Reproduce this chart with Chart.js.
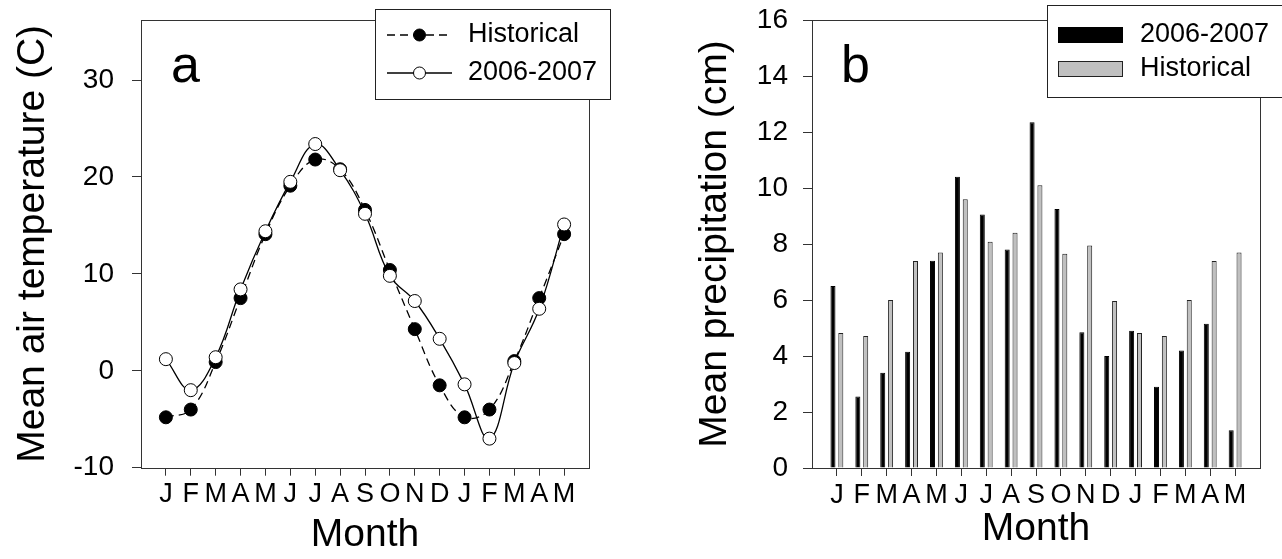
<!DOCTYPE html>
<html>
<head>
<meta charset="utf-8">
<script src="https://cdn.jsdelivr.net/npm/chart.js@4"></script>
<style>
  html, body { margin: 0; padding: 0; background: #fff; overflow: hidden; }
  #tempChart { position: absolute; left: 0; top: 0; }
  #precipChart { position: absolute; left: 640px; top: 0; }
</style>
</head>
<body>
<canvas id="tempChart" width="640" height="559"></canvas>
<canvas id="precipChart" width="642" height="559"></canvas>
<script>
// Jan 2006 .. May 2007
const months = ["J", "F", "M", "A", "M", "J", "J", "A", "S", "O", "N", "D", "J", "F", "M", "A", "M"];

const tempHistorical = [-4.8, -4.0, 0.9, 7.5, 14.1, 19.1, 21.8, 20.8, 16.6, 10.4, 4.3, -1.5, -4.8, -4.0, 1.0, 7.5, 14.1];
const temp0607 = [1.2, -2.0, 1.4, 8.4, 14.4, 19.5, 23.4, 20.7, 16.2, 9.8, 7.2, 3.3, -1.4, -7.0, 0.8, 6.4, 15.1];

const precip0607 = [6.5, 2.55, 3.4, 4.15, 7.4, 10.4, 9.05, 7.8, 12.35, 9.25, 4.85, 4.0, 4.9, 2.9, 4.2, 5.15, 1.35];
const precipHistorical = [4.82, 4.71, 6.0, 7.39, 7.7, 9.6, 8.08, 8.4, 10.1, 7.65, 7.95, 5.96, 4.82, 4.71, 6.0, 7.39, 7.7];

const tempTicks = [-10, 0, 10, 20, 30];
const precipTicks = [0, 2, 4, 6, 8, 10, 12, 14, 16];

const FONT = "'Liberation Sans', Arial, Helvetica, sans-serif";
const AXIS = "#333";

Chart.defaults.font.family = FONT;
Chart.defaults.color = "#000";

function pts(vals) {
  return vals.map((v, i) => ({ x: i, y: v }));
}

// frame round the plot, panel letter and the boxed legend
function decor(letter, lx, box, rows, sx0, sx1, tx) {
  return {
    id: "decor",
    afterDraw(chart) {
      const ctx = chart.ctx;
      const a = chart.chartArea;
      ctx.save();
      ctx.strokeStyle = AXIS;
      ctx.lineWidth = 1;
      const l = Math.round(a.left) + 0.5, t = Math.round(a.top) + 0.5;
      const r = Math.round(a.right) + 0.5, b = Math.round(a.bottom) + 0.5;
      ctx.strokeRect(l, t, r - l, b - t);

      ctx.fillStyle = "#000";
      ctx.font = "52px " + FONT;
      ctx.textBaseline = "alphabetic";
      ctx.fillText(letter, lx, 82);

      ctx.fillStyle = "#fff";
      ctx.fillRect(box.x, box.y, box.w, box.h);
      ctx.strokeStyle = "#222";
      ctx.strokeRect(box.x + 0.5, box.y + 0.5, box.w, box.h);

      chart.data.datasets.forEach((ds, i) => {
        const y = rows[i];
        if (chart.config.type === "line") {
          ctx.strokeStyle = ds.borderColor;
          ctx.lineWidth = ds.borderWidth;
          ctx.setLineDash(ds.borderDash || []);
          ctx.beginPath();
          ctx.moveTo(sx0, y);
          ctx.lineTo(sx1, y);
          ctx.stroke();
          ctx.setLineDash([]);
          ctx.beginPath();
          ctx.arc((sx0 + sx1) / 2, y, 6, 0, Math.PI * 2);
          ctx.fillStyle = ds.pointBackgroundColor;
          ctx.fill();
          ctx.lineWidth = 1;
          ctx.strokeStyle = ds.pointBorderColor;
          ctx.stroke();
        } else {
          ctx.fillStyle = ds.backgroundColor;
          ctx.fillRect(sx0, y - 7.5, sx1 - sx0, 15);
          ctx.strokeStyle = ds.borderColor;
          ctx.lineWidth = 1;
          ctx.strokeRect(sx0 + 0.5, y - 7.5, sx1 - sx0 - 1, 15);
        }
        ctx.fillStyle = "#000";
        ctx.font = "27px " + FONT;
        ctx.textBaseline = "middle";
        ctx.fillText(ds.label, tx, y);
      });
      ctx.restore();
    }
  };
}

function noEdgePadding(s) {
  s.paddingTop = 0;
  s.paddingBottom = 0;
  s.paddingLeft = 0;
  s.paddingRight = 0;
}

function monthAxis(height, titlePad) {
  return {
    type: "linear",
    min: -1,
    max: 17,
    offset: false,
    afterBuildTicks: s => { s.ticks = months.map((m, i) => ({ value: i })); },
    afterFit: s => { s.height = height; noEdgePadding(s); },
    ticks: { autoSkip: false, maxRotation: 0, padding: 3, font: { size: 27 }, callback: v => months[v] },
    grid: { drawOnChartArea: false, offset: false, tickLength: 8, color: AXIS },
    border: { display: false },
    title: { display: true, text: "Month", font: { size: 39 }, padding: { top: 0, bottom: titlePad } }
  };
}

function valueAxis(min, max, tickVals, width, labelPad, title, titlePad) {
  return {
    min: min,
    max: max,
    afterBuildTicks: s => { s.ticks = tickVals.map(v => ({ value: v })); },
    afterFit: s => { s.width = width; noEdgePadding(s); },
    ticks: { padding: labelPad, font: { size: 28 } },
    grid: { drawOnChartArea: false, tickLength: 9, color: AXIS },
    border: { display: false },
    title: { display: true, text: title, font: { size: 39 }, padding: { top: titlePad, bottom: 0 } }
  };
}

new Chart(document.getElementById("tempChart"), {
  type: "line",
  data: {
    datasets: [
      {
        label: "Historical",
        data: pts(tempHistorical),
        borderColor: "#000",
        borderWidth: 1.3,
        borderDash: [8, 5],
        pointRadius: 6.5,
        pointBackgroundColor: "#000",
        pointBorderColor: "#000",
        pointBorderWidth: 1,
        tension: 0.4,
        order: 1
      },
      {
        label: "2006-2007",
        data: pts(temp0607),
        borderColor: "#000",
        borderWidth: 1.3,
        pointRadius: 6.5,
        pointBackgroundColor: "#fff",
        pointBorderColor: "#000",
        pointBorderWidth: 1,
        tension: 0.4,
        order: 0
      }
    ]
  },
  options: {
    responsive: false,
    animation: false,
    layout: { padding: { left: 0, top: 20, right: 51, bottom: 0 } },
    plugins: { legend: { display: false }, tooltip: { enabled: false } },
    scales: {
      x: monthAxis(91.3, 0),
      y: valueAxis(-10, 36.2, tempTicks, 141, 18, "Mean air temperature (C)", 10)
    }
  },
  plugins: [decor("a", 171, { x: 375, y: 9, w: 235, h: 90 }, [35, 73], 387, 452, 468)]
});

new Chart(document.getElementById("precipChart"), {
  type: "bar",
  data: {
    datasets: [
      {
        label: "2006-2007",
        data: pts(precip0607),
        backgroundColor: "#000",
        borderColor: "#000",
        borderWidth: 1
      },
      {
        label: "Historical",
        data: pts(precipHistorical),
        backgroundColor: "#c0c0c0",
        borderColor: "#222",
        borderWidth: 1
      }
    ]
  },
  options: {
    responsive: false,
    animation: false,
    categoryPercentage: 0.63,
    barPercentage: 0.64,
    layout: { padding: { left: 0, top: 20, right: 22, bottom: 0 } },
    plugins: { legend: { display: false }, tooltip: { enabled: false } },
    scales: {
      x: monthAxis(91, 6.6),
      y: valueAxis(0, 16, precipTicks, 172, 15, "Mean precipitation (cm)", 52)
    }
  },
  plugins: [decor("b", 201, { x: 407, y: 5, w: 260, h: 92 }, [35, 69], 418, 483, 500)]
});
</script>
</body>
</html>
